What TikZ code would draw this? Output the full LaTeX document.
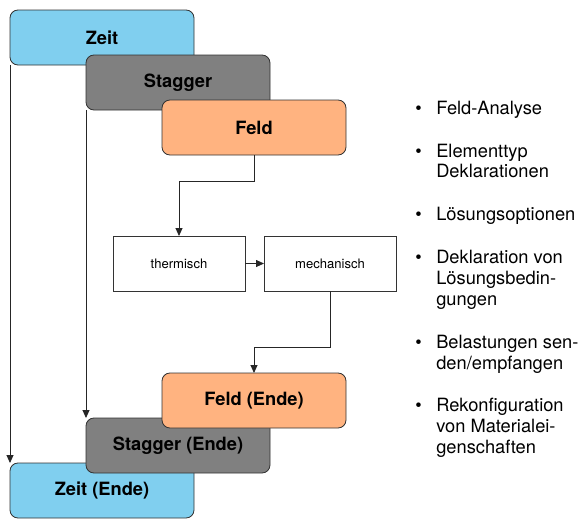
\documentclass[tikz,border=0pt]{standalone}
\usepackage{fontspec}
\setmainfont{TeX Gyre Heros}
\usepackage{xcolor}
\usetikzlibrary{arrows.meta,positioning}

\definecolor{zeitblau}{HTML}{80CFEF}
\definecolor{feldorange}{HTML}{FFB380}
\definecolor{staggergrau}{HTML}{808080}

\begin{document}
\begin{tikzpicture}[
    node distance=5mm and 5mm,
    stufe/.style={draw=black!80, line width=0.6pt, rounded corners=2mm,
                  minimum width=46mm, minimum height=13.75mm, inner sep=0pt,
                  outer sep=0pt, font=\fontsize{13}{15.6}\selectfont\bfseries},
    zeitbox/.style={stufe, fill=zeitblau},
    staggerbox/.style={stufe, fill=staggergrau},
    feldbox/.style={stufe, fill=feldorange},
    physik/.style={draw=black!80, line width=0.6pt, minimum width=33mm,
                   minimum height=13.75mm, inner sep=0pt, outer sep=0pt,
                   font=\fontsize{9.3}{11}\selectfont},
    arrow/.style={-{Triangle[length=2mm,width=1.75mm]}, line width=0.6pt, black!85}
]
\useasboundingbox (0,0) rectangle (145.25mm,-129.5mm);

% Schleifen oben
\node[zeitbox] (zeit) at (25.5mm,-9.375mm) {Zeit};
\node[staggerbox, below right=-2.5mm and -27mm of zeit]    (stagger) {Stagger};
\node[feldbox, below right=-2.5mm and -27mm of stagger]    (feld)    {Feld};

% thermisch / mechanisch
\node[physik, below=20.25mm of feld, xshift=-18.75mm] (therm) {thermisch};
\node[physik, right=4.75mm of therm]                  (mech)  {mechanisch};

% Schleifen unten
\node[zeitbox, below=99.5mm of zeit]                              (zeitend)    {Zeit (Ende)};
\node[staggerbox, above right=-2.5mm and -27mm of zeitend]        (staggerend) {Stagger (Ende)};
\node[feldbox, above right=-2.5mm and -27mm of staggerend]        (feldend)    {Feld (Ende)};

\draw[arrow] (zeit.south west)    -- (zeitend.north west);
\draw[arrow] (stagger.south west) -- (staggerend.north west);
\draw[arrow] (feld.south) -- ++(0,-6.5mm) -| (therm.north);
\draw[arrow] (therm) -- (mech);
\draw[arrow] (mech.south) -- ++(0,-14mm) -| (feldend.north);

% Aufgaben der Feld-Schleife
\node[anchor=north west, inner sep=0pt, font=\fontsize{13}{14.9}\selectfont]
    (liste) at (103.75mm,-24.83mm) {%
\begin{tabular}{@{}p{5.25mm}@{}l@{}}
• & Feld-Analyse\\[15.5pt]
• & Elementtyp\\
  & Deklarationen\\[15.5pt]
• & Lösungsoptionen\\[15.5pt]
• & Deklaration von\\
  & Lösungsbedin-\\
  & gungen\\[15.5pt]
• & Belastungen sen-\\
  & den/empfangen\\[15.5pt]
• & Rekonfiguration\\
  & von Materialei-\\
  & genschaften
\end{tabular}};
\end{tikzpicture}
\end{document}
